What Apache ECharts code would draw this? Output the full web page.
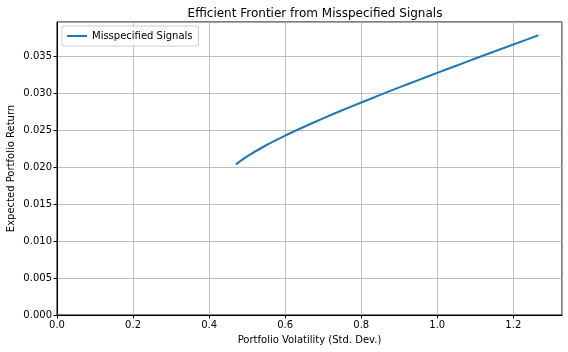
<!DOCTYPE html>
<html>
<head>
<meta charset="utf-8">
<script src="https://cdn.jsdelivr.net/npm/echarts@6/dist/echarts.min.js"></script>
<style>
  body { margin: 0; background: #fff; }
  #chart { width: 568px; height: 352px; }
</style>
</head>
<body>
<div id="chart"></div>
<script>
// volatility (x) and expected return (y)
var volatility = [0.470, 0.50, 0.55, 0.60, 0.65, 0.70, 0.75, 0.80, 0.85, 0.90, 0.95, 1.00, 1.05, 1.10, 1.15, 1.20, 1.266];
var expReturn = [0.02040, 0.02149, 0.02300, 0.02431, 0.02551, 0.02665, 0.02774, 0.02879, 0.02982, 0.03084, 0.03183, 0.03281, 0.03378, 0.03475, 0.03570, 0.03665, 0.03790];
var seriesName = 'Misspecified Signals';

var points = volatility.map(function (v, i) { return [v, expReturn[i]]; });

var font = 'DejaVu Sans';
var chart = echarts.init(document.getElementById('chart'));

chart.setOption({
  animation: false,
  backgroundColor: '#fff',
  title: {
    text: 'Efficient Frontier from Misspecified Signals',
    left: 310,
    top: 3,
    textAlign: 'center',
    textStyle: { fontFamily: font, fontSize: 12, fontWeight: 'normal', color: '#000' }
  },
  legend: {
    left: 62,
    top: 26,
    data: [seriesName],
    itemWidth: 20,
    itemHeight: 2,
    itemGap: 5,
    padding: [5, 6, 5, 5],
    borderColor: '#ccc',
    borderWidth: 1,
    borderRadius: 2,
    backgroundColor: 'rgba(255,255,255,0.8)',
    icon: 'rect',
    textStyle: { fontFamily: font, fontSize: 10, color: '#000' }
  },
  grid: {
    left: 57,
    right: 6,
    top: 22,
    bottom: 37,
    outerBoundsMode: 'none',
    containLabel: false,
    show: true,
    borderColor: '#000',
    borderWidth: 1
  },
  xAxis: {
    type: 'value',
    min: 0,
    max: 1.328,
    interval: 0.2,
    name: 'Portfolio Volatility (Std. Dev.)',
    nameLocation: 'middle',
    nameGap: 20,
    nameMoveOverlap: false,
    nameTextStyle: { fontFamily: font, fontSize: 10, color: '#000' },
    axisLine: { lineStyle: { color: '#000' } },
    axisTick: { show: true, length: 3.5, lineStyle: { color: '#000' } },
    axisLabel: {
      fontFamily: font, fontSize: 10, color: '#000', margin: 5,
      showMaxLabel: false,
      formatter: function (v) { return v.toFixed(1); }
    },
    splitLine: { show: true, lineStyle: { color: '#b0b0b0', width: 0.8 } }
  },
  yAxis: {
    type: 'value',
    min: 0,
    max: 0.0397,
    interval: 0.005,
    name: 'Expected Portfolio Return',
    nameLocation: 'middle',
    nameGap: 41,
    nameMoveOverlap: false,
    nameTextStyle: { fontFamily: font, fontSize: 10, color: '#000' },
    axisLine: { show: true, lineStyle: { color: '#000' } },
    axisTick: { show: true, length: 3.5, lineStyle: { color: '#000' } },
    axisLabel: {
      fontFamily: font, fontSize: 10, color: '#000', margin: 5,
      showMaxLabel: false,
      formatter: function (v) { return v.toFixed(3); }
    },
    splitLine: { show: true, lineStyle: { color: '#b0b0b0', width: 0.8 } }
  },
  series: [{
    name: seriesName,
    type: 'line',
    data: points,
    smooth: 0.2,
    showSymbol: false,
    lineStyle: { color: '#1f77b4', width: 2 },
    itemStyle: { color: '#1f77b4' }
  }]
});
</script>
</body>
</html>
